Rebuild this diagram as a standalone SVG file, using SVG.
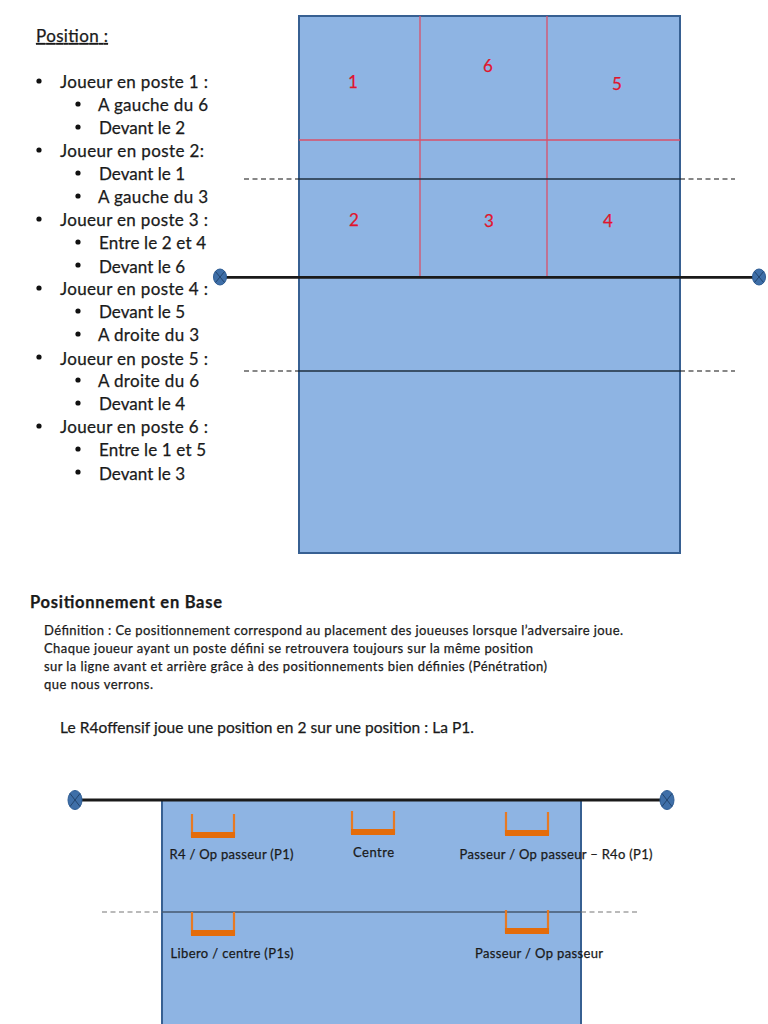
<svg xmlns="http://www.w3.org/2000/svg" width="768" height="1024" viewBox="0 0 768 1024">
<style>
text{font-family:Lato,"Open Sans",sans-serif;fill:#1a1a1a;stroke:#1a1a1a;stroke-width:.25}
.l{font-size:17px}
.s{font-size:13px}
.n{font-size:17px;fill:#e0142d;stroke:#e0142d;text-anchor:middle}
.court{fill:#8eb4e3;stroke:#376092;stroke-width:2}
.red{stroke:#d9506a;stroke-width:1.3;fill:none}
.net{stroke:#1a1a1a;stroke-width:2.8;fill:none}
.thin{stroke:#1f2f40;stroke-width:1.3;fill:none}
.dash{stroke:#111;stroke-width:1.1;stroke-dasharray:5 3.5;fill:none}
.post{fill:#3f6fa8;stroke:#2d5c94;stroke-width:1}
.x{stroke:#1f3f66;stroke-width:.9}
.u{fill:none;stroke:#e67a24;stroke-width:2.2}
.ub{fill:#e46c0a}
.b{fill:#111}
</style>
<defs>
<g id="post"><ellipse class="post" rx="6.500" ry="8"/><path class="x" d="M-4.500-5.500 4.500 5.500M4.500-5.500-4.500 5.500"/></g>
<g id="postb"><ellipse class="post" rx="7" ry="9.500"/><path class="x" d="M-5-6.500 5 6.500M5-6.500-5 6.500"/></g>
<g id="bench"><path class="u" d="M1 0V23M43 0V23"/><rect class="ub" y="18" width="44" height="6"/></g>
</defs>

<g id="court-top">
<rect class="court" x="299" y="16" width="381" height="537"/>
</g>
<g id="connectors">
<path class="red" d="M420 16V277M547 16V277M299 140H680"/>
<path class="dash" d="M244 179H299M680 179H735M244 371H299M680 371H735"/>
<path class="thin" d="M299 179H680M299 371H680"/>
<path class="net" d="M220 277.300H759"/>
</g>
<g id="post-top-left"><use href="#post" x="220" y="277"/></g>
<g id="post-top-right"><use href="#post" x="759" y="277"/></g>
<g id="zones">
<text class="n" x="353" y="88">1</text>
<text class="n" x="488" y="72">6</text>
<text class="n" x="617" y="90">5</text>
<text class="n" x="354" y="226">2</text>
<text class="n" x="489" y="227">3</text>
<text class="n" x="608" y="227">4</text>
</g>
<g id="position-list">
<text class="l" x="36" y="42" text-decoration="underline" textLength="72">Position :</text>
<g class="b">
<circle cx="39" cy="81" r="2.600"/><circle cx="78" cy="104" r="2.600"/><circle cx="78" cy="127" r="2.600"/>
<circle cx="39" cy="150" r="2.600"/><circle cx="78" cy="173" r="2.600"/><circle cx="78" cy="196" r="2.600"/>
<circle cx="39" cy="219" r="2.600"/><circle cx="78" cy="242" r="2.600"/><circle cx="78" cy="265" r="2.600"/>
<circle cx="39" cy="288" r="2.600"/><circle cx="78" cy="311" r="2.600"/><circle cx="78" cy="334" r="2.600"/>
<circle cx="39" cy="357" r="2.600"/><circle cx="78" cy="380" r="2.600"/><circle cx="78" cy="403" r="2.600"/>
<circle cx="39" cy="426" r="2.600"/><circle cx="78" cy="449" r="2.600"/><circle cx="78" cy="472" r="2.600"/>
</g>
<text class="l" x="60" y="88" textLength="148">Joueur en poste 1 :</text>
<text class="l" x="98" y="111" textLength="110">A gauche du 6</text>
<text class="l" x="99" y="134" textLength="86">Devant le 2</text>
<text class="l" x="60" y="157" textLength="144">Joueur en poste 2:</text>
<text class="l" x="99" y="180" textLength="86">Devant le 1</text>
<text class="l" x="98" y="203" textLength="110">A gauche du 3</text>
<text class="l" x="60" y="226" textLength="148">Joueur en poste 3 :</text>
<text class="l" x="99" y="249" textLength="107">Entre le 2 et 4</text>
<text class="l" x="99" y="273" textLength="86">Devant le 6</text>
<text class="l" x="60" y="295" textLength="148">Joueur en poste 4 :</text>
<text class="l" x="99" y="318" textLength="86">Devant le 5</text>
<text class="l" x="98" y="341" textLength="101">A droite du 3</text>
<text class="l" x="60" y="365" textLength="148">Joueur en poste 5 :</text>
<text class="l" x="98" y="387" textLength="101">A droite du 6</text>
<text class="l" x="99" y="410" textLength="86">Devant le 4</text>
<text class="l" x="60" y="433" textLength="148">Joueur en poste 6 :</text>
<text class="l" x="99" y="456" textLength="107">Entre le 1 et 5</text>
<text class="l" x="99" y="480" textLength="86">Devant le 3</text>
</g>
<g id="base-text">
<text x="30" y="608" font-size="16.500" font-weight="700" stroke-width="0" textLength="192">Positionnement en Base</text>
<text class="s" x="44" y="635" textLength="579">Définition : Ce positionnement correspond au placement des joueuses lorsque l’adversaire joue.</text>
<text class="s" x="44" y="653" textLength="489">Chaque joueur ayant un poste défini se retrouvera toujours sur la même position</text>
<text class="s" x="44" y="671" textLength="503">sur la ligne avant et arrière grâce à des positionnements bien définies (Pénétration)</text>
<text class="s" x="44" y="689" textLength="109">que nous verrons.</text>
<text x="60" y="733" font-size="15.500" textLength="414">Le R4offensif joue une position en 2 sur une position : La P1.</text>
</g>
<g id="court-bottom">
<path class="court" d="M162 800V1030H581V800Z"/>
</g>
<g id="connectors-bottom">
<path class="dash" style="stroke:#777" d="M102 912H162M581 912H640"/>
<path class="thin" style="stroke:#44586f" d="M162 912H581"/>
<path class="net" d="M75 800H667"/>
</g>
<g id="post-bottom-left"><use href="#postb" x="75" y="800"/></g>
<g id="post-bottom-right"><use href="#postb" x="667" y="800"/></g>
<g id="bench-r4"><use href="#bench" x="191" y="814"/><text class="s" x="231.500" y="859" text-anchor="middle" textLength="124">R4 / Op passeur (P1)</text></g>
<g id="bench-centre"><use href="#bench" x="351" y="811"/><text class="s" x="373.500" y="857" text-anchor="middle" textLength="41">Centre</text></g>
<g id="bench-passeur"><use href="#bench" x="505" y="812"/><text class="s" x="556" y="859" text-anchor="middle" textLength="193">Passeur / Op passeur – R4o (P1)</text></g>
<g id="bench-libero"><use href="#bench" x="191" y="912"/><text class="s" x="232" y="958" text-anchor="middle" textLength="123">Libero / centre (P1s)</text></g>
<g id="bench-op"><use href="#bench" x="505" y="910"/><text class="s" x="539" y="958" text-anchor="middle" textLength="128">Passeur / Op passeur</text></g>
</svg>
